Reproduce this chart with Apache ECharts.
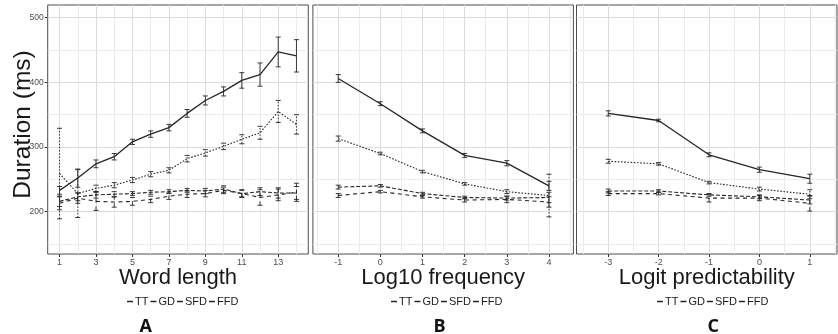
<!DOCTYPE html>
<html><head><meta charset="utf-8">
<script src="https://cdn.jsdelivr.net/npm/echarts@6/dist/echarts.min.js"></script>
<style>html,body{margin:0;padding:0;background:#fff}#c{width:838px;height:334px}</style>
</head><body><div id="c"></div>
<script>
// ---------------- data ----------------
const seriesNames = ['TT', 'GD', 'SFD', 'FFD'];

// Panel A: word length
const lenX = [1, 2, 3, 4, 5, 6, 7, 8, 9, 10, 11, 12, 13, 14];
const lenTT = [233, 252, 274, 285, 308, 320, 330, 352, 372, 386, 403, 412, 447, 441];
const lenTTErr = [6, 14, 6, 5, 4, 5, 5, 6, 7, 7, 12, 18, 23, 25];
const lenGD = [259, 228, 236, 241, 249, 258, 264, 282, 291, 301, 312, 322, 355, 335];
const lenGDErr = [70, 37, 5, 4, 4, 4, 4, 5, 5, 5, 7, 10, 17, 15];
const lenSFD = [216, 223, 226, 227, 228, 230, 231, 233, 232, 235, 228, 231, 229, 229];
const lenSFDErr = [8, 6, 5, 4, 3, 3, 3, 3, 4, 5, 5, 6, 8, 10];
const lenFFD = [213, 221, 216, 215, 216, 219, 224, 227, 228, 233, 228, 222, 226, 230];
const lenFFDErr = [10, 8, 14, 8, 6, 5, 5, 5, 5, 5, 6, 12, 9, 14];

// Panel B: log10 frequency
const freqX = [-1, 0, 1, 2, 3, 4];
const freqTT = [406, 367, 325, 287, 275, 240];
const freqTTErr = [6, 3, 3, 3, 4, 7];
const freqGD = [313, 290, 262, 243, 231, 225];
const freqGDErr = [4, 2, 2, 2, 3, 33];
const freqSFD = [238, 240, 228, 222, 221, 222];
const freqSFDErr = [3, 2, 2, 2, 3, 8];
const freqFFD = [225, 231, 223, 218, 219, 215];
const freqFFDErr = [3, 2, 2, 3, 5, 8];

// Panel C: logit predictability
const predX = [-3, -2, -1, 0, 1];
const predTT = [352, 341, 288, 265, 251];
const predTTErr = [4, 2, 3, 4, 7];
const predGD = [278, 274, 245, 235, 227];
const predGDErr = [3, 2, 2, 3, 7];
const predSFD = [232, 232, 226, 223, 218];
const predSFDErr = [3, 2, 2, 3, 6];
const predFFD = [228, 228, 221, 221, 213];
const predFFDErr = [3, 2, 6, 4, 12];

// tick labels / grid breaks
const yTickLabels = [200, 300, 400, 500];
const yMinorBreaks = [150, 250, 350, 450];
const lenTickLabels = [1, 3, 5, 7, 9, 11, 13];
const lenMinorBreaks = [2, 4, 6, 8, 10, 12, 14];
const freqTickLabels = [-1, 0, 1, 2, 3, 4];
const freqMinorBreaks = [-1.5, -0.5, 0.5, 1.5, 2.5, 3.5, 4.5];
const predTickLabels = [-3, -2, -1, 0, 1];
const predMinorBreaks = [-3.5, -2.5, -1.5, -0.5, 0.5, 1.5];

const axisTitles = ['Word length', 'Log10 frequency', 'Logit predictability'];
const panelLetters = ['A', 'B', 'C'];

// ---------------- layout / style ----------------
const FONT = '"Liberation Sans", Arial, sans-serif';
const INK = '#262626';
const dashes = { TT: 'solid', GD: [1.6, 1.6], SFD: [4, 2], FFD: [4, 3.5] };
const panels = [
  { left: 47.7, width: 260.6, xmin: 0.35, xmax: 14.65, xs: lenX, ticks: lenTickLabels, minor: lenMinorBreaks,
    vals: [lenTT, lenGD, lenSFD, lenFFD], errs: [lenTTErr, lenGDErr, lenSFDErr, lenFFDErr] },
  { left: 312.9, width: 260.5, xmin: -1.6, xmax: 4.58, xs: freqX, ticks: freqTickLabels, minor: freqMinorBreaks,
    vals: [freqTT, freqGD, freqSFD, freqFFD], errs: [freqTTErr, freqGDErr, freqSFDErr, freqFFDErr] },
  { left: 576.5, width: 260.5, xmin: -3.63, xmax: 1.54, xs: predX, ticks: predTickLabels, minor: predMinorBreaks,
    vals: [predTT, predGD, predSFD, predFFD], errs: [predTTErr, predGDErr, predSFDErr, predFFDErr] }
];
const legendCenters = [180, 444, 710];
const letterCenters = [146, 440, 714];

const grids = [], xAxes = [], yAxes = [], series = [], legends = [], titles = [];

panels.forEach((p, i) => {
  grids.push({ left: p.left, top: 5, width: p.width, height: 249, show: true,
    borderColor: '#4d4d4d', borderWidth: 1, backgroundColor: '#fff', containLabel: false });
  xAxes.push({
    type: 'value', gridIndex: i, min: p.xmin, max: p.xmax,
    axisLine: { show: false }, splitLine: { show: false },
    axisTick: { show: true, customValues: p.ticks, length: 3, lineStyle: { color: '#333' } },
    axisLabel: { customValues: p.ticks, margin: 4, fontSize: 9, color: '#4d4d4d', fontFamily: FONT },
    name: axisTitles[i], nameLocation: 'middle', nameGap: 13, nameMoveOverlap: false,
    nameTextStyle: { fontSize: 22, color: '#1a1a1a', fontFamily: FONT }
  });
  yAxes.push({
    type: 'value', gridIndex: i, min: 134.6, max: 519.6,
    axisLine: { show: false }, splitLine: { show: false },
    axisTick: { show: i === 0, customValues: yTickLabels, length: 3, lineStyle: { color: '#333' } },
    axisLabel: { show: i === 0, customValues: yTickLabels, margin: 4, fontSize: 8.5, color: '#4d4d4d', fontFamily: FONT },
    name: i === 0 ? 'Duration (ms)' : '', nameLocation: 'middle', nameGap: 12, nameMoveOverlap: false,
    nameTextStyle: { fontSize: 24.5, color: '#1a1a1a', fontFamily: FONT, padding: [0, 0, 0, 10] }
  });
  // gridlines through the axis scales
  const gl = [];
  p.ticks.forEach(v => gl.push({ xAxis: v, lineStyle: { color: '#dcdcdc', width: 1 } }));
  p.minor.forEach(v => { if (v > p.xmin && v < p.xmax) gl.push({ xAxis: v, lineStyle: { color: '#ebebeb', width: 1 } }); });
  yTickLabels.forEach(v => gl.push({ yAxis: v, lineStyle: { color: '#dcdcdc', width: 1 } }));
  yMinorBreaks.forEach(v => gl.push({ yAxis: v, lineStyle: { color: '#ebebeb', width: 1 } }));
  series.push({
    type: 'line', name: 'grid' + i, xAxisIndex: i, yAxisIndex: i, data: [], silent: true, z: 1,
    markLine: { z: 1, silent: true, animation: false, symbol: ['none', 'none'], label: { show: false },
      lineStyle: { type: 'solid' }, emphasis: { disabled: true }, data: gl }
  });
  seriesNames.forEach((nm, k) => {
    const ys = p.vals[k], es = p.errs[k];
    const w = nm === 'TT' ? 1.3 : 1.1;
    series.push({
      type: 'line', name: nm, xAxisIndex: i, yAxisIndex: i,
      data: p.xs.map((x, j) => [x, ys[j]]), symbol: 'none', z: 4, animation: false,
      lineStyle: { color: INK, width: w, type: dashes[nm] }, itemStyle: { color: INK },
      emphasis: { disabled: true }
    });
    const dash = dashes[nm] === 'solid' ? null : dashes[nm];
    series.push({
      type: 'custom', name: nm + ' error', xAxisIndex: i, yAxisIndex: i, z: 3, animation: false, silent: true,
      data: p.xs.map((x, j) => [x, ys[j] - es[j], ys[j] + es[j]]),
      renderItem: (params, api) => {
        const lo = api.coord([api.value(0), api.value(1)]);
        const hi = api.coord([api.value(0), api.value(2)]);
        const hw = 2.5;
        const st = { stroke: INK, lineWidth: 0.9, lineDash: dash, fill: null };
        const cs = { stroke: INK, lineWidth: 0.9, fill: null };
        return { type: 'group', children: [
          { type: 'line', shape: { x1: lo[0], y1: lo[1], x2: hi[0], y2: hi[1] }, style: st },
          { type: 'line', shape: { x1: lo[0] - hw, y1: lo[1], x2: lo[0] + hw, y2: lo[1] }, style: cs },
          { type: 'line', shape: { x1: hi[0] - hw, y1: hi[1], x2: hi[0] + hw, y2: hi[1] }, style: cs }
        ] };
      }
    });
  });
  legends.push({
    data: seriesNames.map(n => ({ name: n, icon: 'rect' })), left: legendCenters[i] - 58, top: 291, orient: 'horizontal',
    itemWidth: 6, itemHeight: 1.5, itemGap: 2, selectedMode: false,
    itemStyle: { color: INK, borderWidth: 0 },
    textStyle: { fontSize: 11, color: '#1a1a1a', fontFamily: FONT, padding: [0, 0, 0, -3] }
  });
  titles.push({
    text: panelLetters[i], left: letterCenters[i] - 6.5, top: 318, padding: 0,
    textStyle: { fontSize: 18, fontWeight: 'bold', color: '#111', fontFamily: '"Open Sans", "Noto Sans", sans-serif' }
  });
});

const chart = echarts.init(document.getElementById('c'), null, { renderer: 'canvas' });
chart.setOption({
  animation: false, backgroundColor: '#fff',
  title: titles, legend: legends, grid: grids, xAxis: xAxes, yAxis: yAxes, series: series
});
</script></body></html>
